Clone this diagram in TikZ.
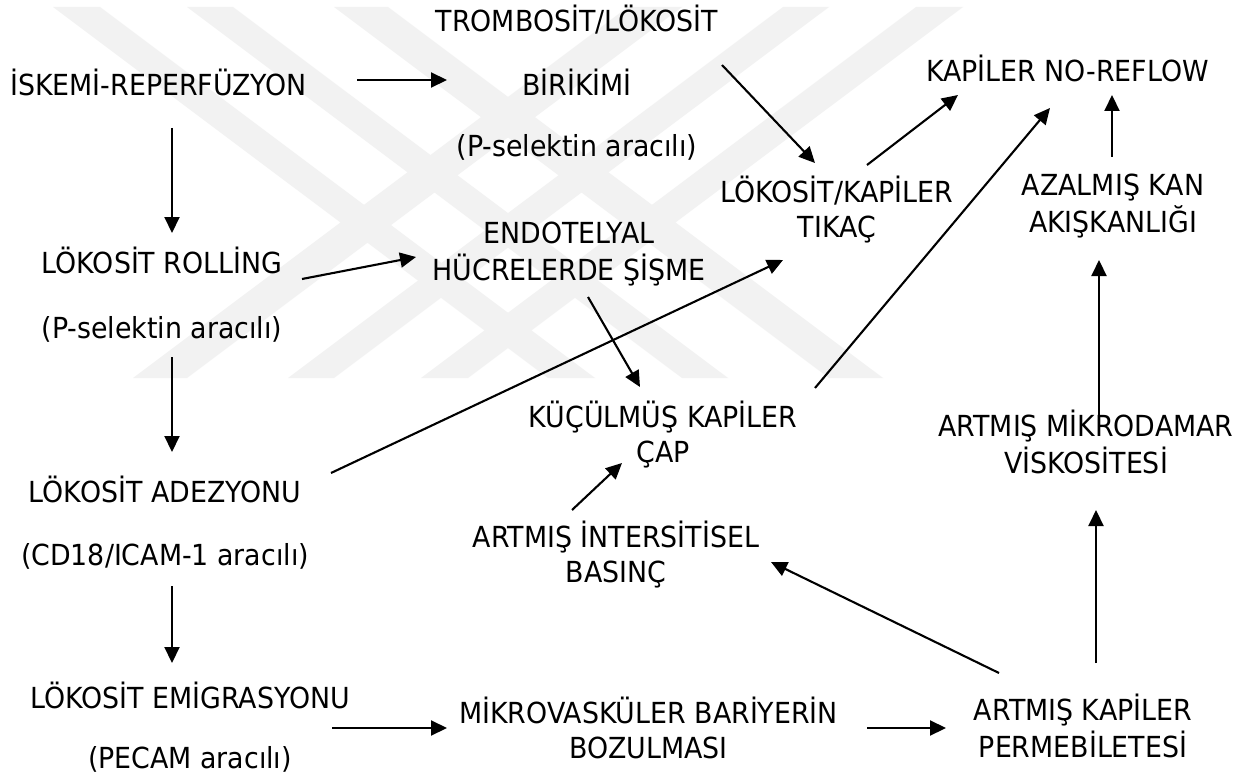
\documentclass[tikz,border=0pt]{standalone}
\usepackage{fontspec}
\setmainfont{DejaVu Sans}
\usetikzlibrary{arrows.meta}

% one label: centred lines, first baseline is the node's base
\newcommand\lbl[1]{\scalebox{0.925}[1]{\begin{tabular}[t]{@{}c@{}}#1\end{tabular}}}

\tikzset{
  lab/.style={anchor=base, inner sep=0pt, font=\fontsize{29}{35}\selectfont},
  flow/.style={line width=2.1pt, -{Triangle[length=16pt,width=15pt]}},
  wmband/.style={fill=black!5, draw=none}
}

\begin{document}
\begin{tikzpicture}[x=1pt, y=-1pt]
\useasboundingbox (0,0) rectangle (1248,781);
\fill[white] (0,0) rectangle (1248,781);

% faint emblem in the background
\begin{scope}
  \clip (0,7) rectangle (1248,378);
  \fill[wmband] (53,7) -- (100,7) -- (595,378) -- (548,378) -- cycle;
  \fill[wmband] (187,7) -- (233,7) -- (728,378) -- (682,378) -- cycle;
  \fill[wmband] (916,7) -- (963,7) -- (468,378) -- (421,378) -- cycle;
  \fill[wmband] (783,7) -- (829,7) -- (334,378) -- (288,378) -- cycle;
  \fill[wmband] (133,378) -- (187,378) -- (682,7) -- (628,7) -- cycle;
  \fill[wmband] (829,378) -- (883,378) -- (388,7) -- (334,7) -- cycle;
\end{scope}

% labels
\node[lab] (isk)   at (158.5,96) {\lbl{İSKEMİ-REPERFÜZYON}};
\node[lab] (trom)  at (577,32)   {\lbl{TROMBOSİT/LÖKOSİT\\[26pt] BİRİKİMİ\\[26pt] (P-selektin aracılı)}};
\node[lab] (nore)  at (1067.5,82) {\lbl{KAPİLER NO-REFLOW}};
\node[lab] (tikac) at (837,203)  {\lbl{LÖKOSİT/KAPİLER\\ TIKAÇ}};
\node[lab] (azal)  at (1113,195) {\lbl{AZALMIŞ KAN\\ AKIŞKANLIĞI}};
\node[lab] (endo)  at (569,243)  {\lbl{ENDOTELYAL\\ HÜCRELERDE ŞİŞME}};
\node[lab] (roll)  at (162,273)  {\lbl{LÖKOSİT ROLLİNG\\[30pt] (P-selektin aracılı)}};
\node[lab] (kucul) at (663,427)  {\lbl{KÜÇÜLMÜŞ KAPİLER\\ ÇAP}};
\node[lab] (visk)  at (1086,436) {\lbl{ARTMIŞ MİKRODAMAR\\ VİSKOSİTESİ}};
\node[lab] (adez)  at (165,502)  {\lbl{LÖKOSİT ADEZYONU\\[28pt] (CD18/ICAM-1 aracılı)}};
\node[lab] (inter) at (616,547)  {\lbl{ARTMIŞ İNTERSİTİSEL\\ BASINÇ}};
\node[lab] (emig)  at (190,708)  {\lbl{LÖKOSİT EMİGRASYONU\\[25pt] (PECAM aracılı)}};
\node[lab] (mikro) at (648.5,723) {\lbl{MİKROVASKÜLER BARİYERİN\\ BOZULMASI}};
\node[lab] (perm)  at (1083,720) {\lbl{ARTMIŞ KAPİLER\\ PERMEBİLETESİ}};

% connectors
\draw[flow] ([shift={(198.5,-16)}]isk.base) -- ([shift={(-130,48)}]trom.base);
\draw[flow] ([shift={(13.5,32)}]isk.base) -- ([shift={(10,-40)}]roll.base);
\draw[flow] ([shift={(140,6)}]roll.base) -- ([shift={(-153,14)}]endo.base);
\draw[flow] ([shift={(10,84)}]roll.base) -- ([shift={(7,-50)}]adez.base);
\draw[flow] ([shift={(145,33)}]trom.base) -- ([shift={(-22,-40)}]tikac.base);
\draw[flow] ([shift={(30,-38)}]tikac.base) -- ([shift={(-109.5,13)}]nore.base);
\draw[flow] ([shift={(-1,-38)}]azal.base) -- ([shift={(44.5,13)}]nore.base);
\draw[flow] ([shift={(152,-39)}]kucul.base) -- ([shift={(-17.5,26)}]nore.base);
\draw[flow] ([shift={(166,-29)}]adez.base) -- ([shift={(-54,57)}]tikac.base);
\draw[flow] ([shift={(19,54)}]endo.base) -- ([shift={(-23,-40)}]kucul.base);
\draw[flow] ([shift={(13,-18)}]visk.base) -- ([shift={(-14,65)}]azal.base);
\draw[flow] ([shift={(-44,-37)}]inter.base) -- ([shift={(-41,36)}]kucul.base);
\draw[flow] ([shift={(7,84)}]adez.base) -- ([shift={(-18,-45)}]emig.base);
\draw[flow] ([shift={(142,20)}]emig.base) -- ([shift={(-201.5,5)}]mikro.base);
\draw[flow] ([shift={(218.5,5)}]mikro.base) -- ([shift={(-137,8)}]perm.base);
\draw[flow] ([shift={(13,-57)}]perm.base) -- ([shift={(10,74)}]visk.base);
\draw[flow] ([shift={(-84,-47)}]perm.base) -- ([shift={(155,15)}]inter.base);
\end{tikzpicture}
\end{document}
